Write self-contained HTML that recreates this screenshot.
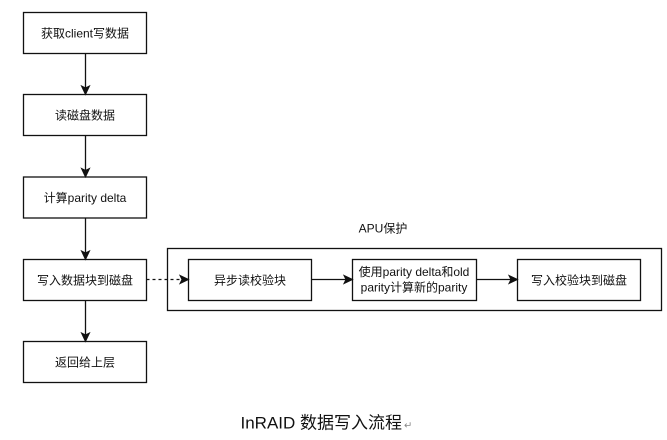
<!DOCTYPE html>
<html>
<head>
<meta charset="utf-8">
<style>
  html, body { margin: 0; padding: 0; background: #fff; }
  body { width: 667px; height: 440px; overflow: hidden; }
  svg { display: block; }
  text { font-family: "Liberation Sans", "Noto Sans CJK SC", sans-serif; fill: #111; }
</style>
</head>
<body>
<svg width="667" height="440" viewBox="0 0 667 440" xmlns="http://www.w3.org/2000/svg">
  <g fill="#fff" stroke="#111" stroke-width="1.3">
    <!-- left column boxes -->
    <rect x="23.5" y="12.5" width="123" height="41"/>
    <rect x="23.5" y="94.5" width="123" height="41"/>
    <rect x="23.5" y="177" width="123" height="41"/>
    <rect x="23.5" y="259.5" width="123" height="41"/>
    <rect x="23.5" y="341.5" width="123" height="41"/>
    <!-- container -->
    <rect x="167.5" y="248.5" width="494" height="62"/>
    <!-- inner boxes -->
    <rect x="188.5" y="259.5" width="123" height="41"/>
    <rect x="352.5" y="259.5" width="124" height="41"/>
    <rect x="517.5" y="259.5" width="123" height="41"/>
  </g>

  <!-- connectors -->
  <g stroke="#111" stroke-width="1.3" fill="none">
    <line x1="85.5" y1="53.5" x2="85.5" y2="88"/>
    <line x1="85.5" y1="135.5" x2="85.5" y2="171"/>
    <line x1="85.5" y1="218" x2="85.5" y2="253"/>
    <line x1="85.5" y1="300.5" x2="85.5" y2="335"/>
    <line x1="311.5" y1="279.5" x2="346" y2="279.5"/>
    <line x1="476.5" y1="279.5" x2="511" y2="279.5"/>
    <line x1="146.5" y1="279.5" x2="182" y2="279.5" stroke-dasharray="3,3"/>
  </g>
  <g fill="#111" stroke="#111" stroke-width="1">
    <!-- vertical arrowheads (tip at box top) -->
    <path d="M85.5 94.5 L81.5 86 L85.5 88 L89.5 86 Z"/>
    <path d="M85.5 177 L81.5 168.5 L85.5 170.5 L89.5 168.5 Z"/>
    <path d="M85.5 259.5 L81.5 251 L85.5 253 L89.5 251 Z"/>
    <path d="M85.5 341.5 L81.5 333 L85.5 335 L89.5 333 Z"/>
    <!-- horizontal arrowheads -->
    <path d="M188.5 279.5 L180 275.5 L182 279.5 L180 283.5 Z"/>
    <path d="M352.5 279.5 L344 275.5 L346 279.5 L344 283.5 Z"/>
    <path d="M517.5 279.5 L509 275.5 L511 279.5 L509 283.5 Z"/>
  </g>

  <!-- labels -->
  <g font-size="12" text-anchor="middle">
    <text x="85" y="37.5">获取client写数据</text>
    <text x="85" y="119.5">读磁盘数据</text>
    <text x="85" y="202">计算parity delta</text>
    <text x="85" y="284.5">写入数据块到磁盘</text>
    <text x="85" y="366.5">返回给上层</text>
    <text x="250" y="284.5">异步读校验块</text>
    <text x="414" y="276">使用parity delta和old</text>
    <text x="414" y="291.5">parity计算新的parity</text>
    <text x="579" y="284.5">写入校验块到磁盘</text>
    <text x="383" y="232.5">APU保护</text>
  </g>

  <!-- caption -->
  <text x="240.5" y="428.5" font-size="17" style="font-family:'Liberation Sans','Noto Sans CJK SC',sans-serif;">InRAID 数据写入流程</text>
  <text x="404" y="428.5" font-size="10" style="fill:#888;">↵</text>
</svg>
</body>
</html>
